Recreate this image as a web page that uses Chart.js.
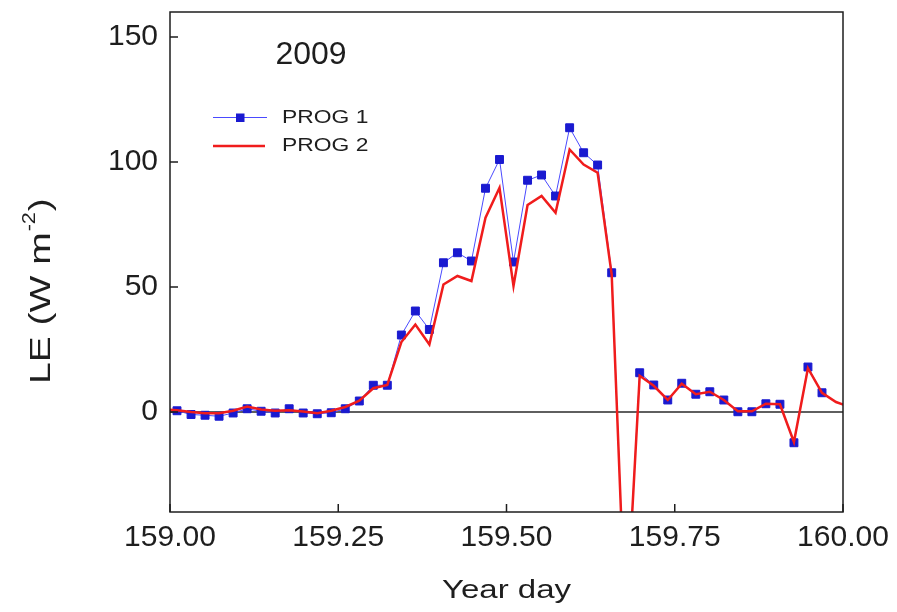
<!DOCTYPE html>
<html>
<head>
<meta charset="utf-8">
<title>LE 2009</title>
<script src="https://cdn.jsdelivr.net/npm/chart.js@4.4.1/dist/chart.umd.min.js"></script>
<style>
  html, body { margin: 0; padding: 0; background: #fff; }
  #wrap { width: 897px; height: 612px; position: relative; }
</style>
</head>
<body>
<div id="wrap"><canvas id="leChart"></canvas></div>
<script>
// half-hourly stamps (year day); one extra slot on each side so the lines run into the frame
const yearDays = [
    158.9896, 159.0104, 159.0313, 159.0521, 159.0729, 159.0938, 159.1146, 159.1354, 159.1563, 159.1771,
    159.1979, 159.2188, 159.2396, 159.2604, 159.2813, 159.3021, 159.3229, 159.3438, 159.3646, 159.3854,
    159.4063, 159.4271, 159.4479, 159.4688, 159.4896, 159.5104, 159.5313, 159.5521, 159.5729, 159.5938,
    159.6146, 159.6354, 159.6563, 159.6771, 159.6979, 159.7188, 159.7396, 159.7604, 159.7813, 159.8021,
    159.8229, 159.8438, 159.8646, 159.8854, 159.9063, 159.9271, 159.9479, 159.9688, 159.9896, 160.0104
];

// LE (W m-2)
const prog1 = [
    null, 0.5, -1, -1.3, -1.7, -0.4, 1.3, 0.3, -0.4, 1.3,
    -0.4, -0.7, -0.3, 1.3, 4.4, 10.7, 10.7, 30.8, 40.4, 33,
    59.7, 63.7, 60.4, 89.5, 101, 60, 92.7, 94.8, 86.4, 113.7,
    103.7, 98.8, 55.7, -88, 15.7, 10.8, 4.8, 11.5, 7.1, 8.1,
    4.8, 0.1, 0.1, 3.3, 3.1, -12.3, 18, 7.7, null, null
];

const prog2 = [
    1, 0.7, 0, -0.5, -0.5, 0.5, 2.2, 1, 0.5, 0.7,
    0.2, -0.5, 0.5, 2, 4.5, 9.5, 10.8, 28, 35, 27,
    51, 54.4, 52.4, 77.7, 89.7, 50.4, 82.8, 86.4, 79.7, 105,
    99, 95.7, 55, -88, 14.5, 10.5, 4.8, 11.3, 7.1, 8.1,
    4.8, 0.3, 0.3, 3.3, 3.1, -12, 17.5, 7.7, 4, 2
];

const seriesNames = ['PROG 1', 'PROG 2'];
const xTicks = [159.00, 159.25, 159.50, 159.75, 160.00];
const yTicks = [0, 50, 100, 150];
const yearLabel = '2009';
const xTitle = 'Year day';

const FONT = "'Liberation Sans', Arial, sans-serif";
const INK = '#1e1e1e';
const BLUE = '#1a1ad0';
const BLUE_LINE = '#4a4aff';
const RED = '#f01c1c';

function toPoints(values) {
    return values.map((v, i) => ({ x: yearDays[i], y: v }));
}

// wide lettering: text drawn with a horizontal stretch along its baseline
function wideText(ctx, text, x, y, stretch, align) {
    ctx.save();
    ctx.translate(x, y);
    ctx.scale(stretch, 1);
    ctx.textAlign = align || 'left';
    ctx.fillText(text, 0, 0);
    const w = ctx.measureText(text).width * stretch;
    ctx.restore();
    return w;
}

// frame, zero line and inward tick marks
const framePlugin = {
    id: 'frame',
    beforeDatasetsDraw(chart) {
        const { ctx, chartArea: a, scales } = chart;
        const y0 = scales.y.getPixelForValue(0);
        ctx.save();
        ctx.strokeStyle = '#2a2a2a';
        ctx.lineWidth = 1.5;
        ctx.beginPath();
        ctx.moveTo(a.left, y0);
        ctx.lineTo(a.right, y0);
        ctx.stroke();
        ctx.restore();
    },
    afterDatasetsDraw(chart) {
        const { ctx, chartArea: a, scales } = chart;
        ctx.save();
        ctx.strokeStyle = INK;
        ctx.lineWidth = 1.5;
        ctx.strokeRect(a.left, a.top, a.right - a.left, a.bottom - a.top);
        ctx.beginPath();
        yTicks.forEach(v => {
            const py = scales.y.getPixelForValue(v);
            ctx.moveTo(a.left, py);
            ctx.lineTo(a.left + 8, py);
        });
        xTicks.forEach(v => {
            const px = scales.x.getPixelForValue(v);
            ctx.moveTo(px, a.bottom);
            ctx.lineTo(px, a.bottom - 8);
        });
        ctx.stroke();
        ctx.restore();
    }
};

// axis titles, year label and the legend box
const textPlugin = {
    id: 'texts',
    afterDraw(chart) {
        const { ctx, chartArea: a } = chart;
        ctx.save();
        ctx.fillStyle = INK;
        ctx.textBaseline = 'alphabetic';

        // year
        ctx.font = '32px ' + FONT;
        ctx.textAlign = 'center';
        ctx.fillText(yearLabel, 311, 64);

        // x title
        ctx.font = '26px ' + FONT;
        wideText(ctx, xTitle, (a.left + a.right) / 2, 598, 1.27, 'center');

        // y title with superscript
        ctx.save();
        ctx.translate(50, 384);
        ctx.rotate(-Math.PI / 2);
        ctx.font = '30px ' + FONT;
        let w = wideText(ctx, 'LE (W m', 0, 0, 1.3);
        ctx.font = '18px ' + FONT;
        w += wideText(ctx, '-2', w + 1, -15, 1.2) + 2;
        ctx.font = '30px ' + FONT;
        wideText(ctx, ')', w, 0, 1.3);
        ctx.restore();

        // legend
        ctx.lineWidth = 1;
        ctx.strokeStyle = BLUE_LINE;
        ctx.beginPath();
        ctx.moveTo(213, 117.5);
        ctx.lineTo(267, 117.5);
        ctx.stroke();
        ctx.fillStyle = BLUE;
        ctx.fillRect(236, 113.5, 8.5, 8.5);
        ctx.lineWidth = 2.5;
        ctx.strokeStyle = RED;
        ctx.beginPath();
        ctx.moveTo(213, 146);
        ctx.lineTo(265, 146);
        ctx.stroke();

        ctx.fillStyle = INK;
        ctx.font = '18px ' + FONT;
        ctx.textBaseline = 'middle';
        wideText(ctx, seriesNames[0], 282, 118, 1.27);
        wideText(ctx, seriesNames[1], 282, 146, 1.27);
        ctx.restore();
    }
};

new Chart(document.getElementById('leChart'), {
    type: 'line',
    data: {
        datasets: [
            {
                label: seriesNames[0],
                data: toPoints(prog1),
                borderColor: BLUE_LINE,
                borderWidth: 1,
                pointStyle: 'rect',
                pointRadius: 5.6,
                pointBorderWidth: 1,
                pointBackgroundColor: BLUE,
                pointBorderColor: BLUE,
                spanGaps: false,
                order: 1
            },
            {
                label: seriesNames[1],
                data: toPoints(prog2),
                borderColor: RED,
                borderWidth: 2.5,
                pointRadius: 0,
                order: 0
            }
        ]
    },
    options: {
        responsive: true,
        maintainAspectRatio: false,
        animation: false,
        layout: { padding: { top: 12, right: 54, left: 0, bottom: 0 } },
        plugins: {
            legend: { display: false },
            tooltip: { enabled: false }
        },
        scales: {
            x: {
                type: 'linear',
                min: 159,
                max: 160,
                afterBuildTicks: s => { s.ticks = xTicks.map(v => ({ value: v })); },
                afterFit: s => { s.height = 100; s.paddingLeft = 0; s.paddingRight = 0; },
                grid: { display: false, drawTicks: false },
                border: { display: false },
                ticks: {
                    padding: 8,
                    color: INK,
                    font: { family: FONT, size: 30 },
                    maxRotation: 0,
                    callback: v => Number(v).toFixed(2)
                }
            },
            y: {
                min: -40,
                max: 160,
                afterBuildTicks: s => { s.ticks = yTicks.map(v => ({ value: v })); },
                afterFit: s => { s.width = 170; s.paddingTop = 0; s.paddingBottom = 0; },
                grid: { display: false, drawTicks: false },
                border: { display: false },
                ticks: {
                    padding: 12,
                    color: INK,
                    font: { family: FONT, size: 30 }
                }
            }
        }
    },
    plugins: [framePlugin, textPlugin]
});
</script>
</body>
</html>
